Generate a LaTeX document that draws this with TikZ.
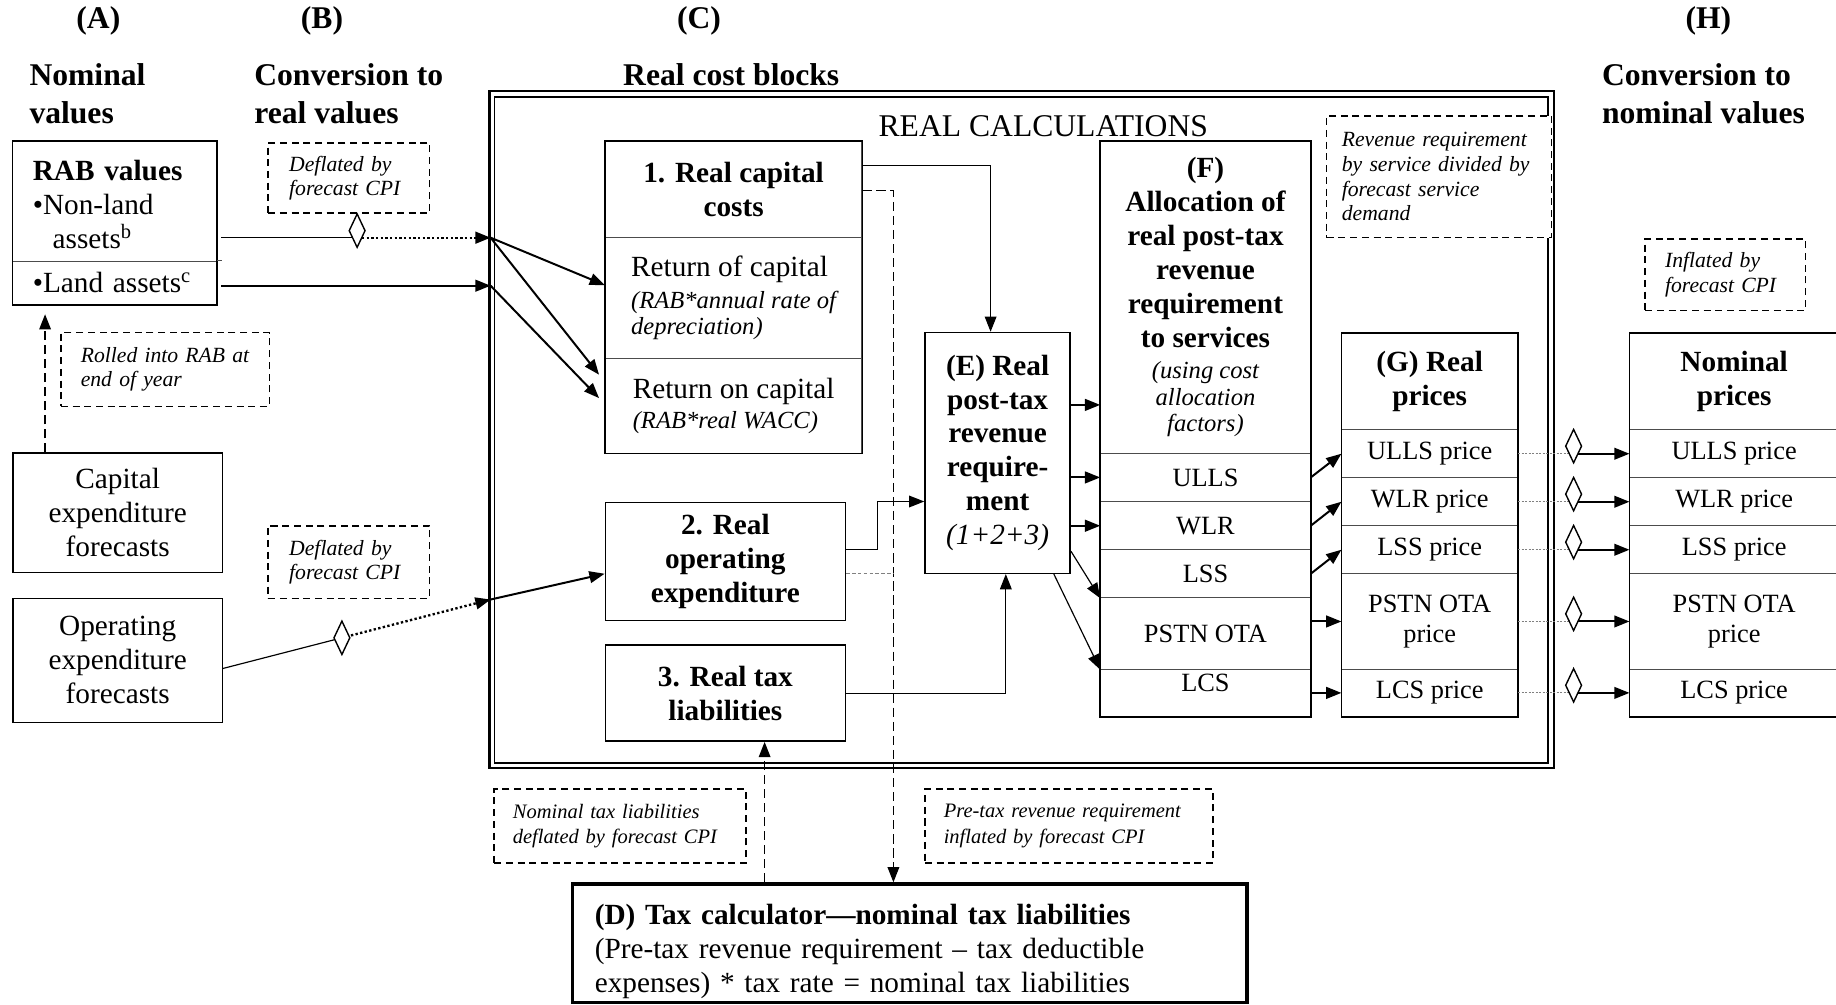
\documentclass[tikz,border=0pt]{standalone}
\usepackage{fontspec}
\setmainfont{Liberation Serif}
\usetikzlibrary{arrows.meta, shapes.geometric}
\newcommand{\rcbody}{\fontsize{25}{29}\selectfont}
\newcommand{\rchead}{\fontsize{25}{29}\selectfont\bfseries}
\newcommand{\rctitle}{\fontsize{27}{32}\selectfont\bfseries}
\newcommand{\rcnote}{\fontsize{18.5}{21}\selectfont\itshape}
\newcommand{\rcsmall}{\fontsize{17.5}{22}\selectfont\itshape}
\newcommand{\rcital}{\fontsize{21}{23}\selectfont\mdseries\itshape}
\newcommand{\rcrow}{\fontsize{22.5}{26}\selectfont}
\tikzset{
  box/.style={draw, line width=1.3pt, inner sep=0pt, align=center, font=\rcbody},
  cell/.style={draw=black!70, line width=0.8pt, inner sep=0pt, align=center},
  note/.style={draw, fill=white, line width=1.3pt, dash pattern=on 6pt off 4pt, inner sep=0pt, align=left, font=\rcnote},
  dia/.style={diamond, draw, fill=white, line width=1.2pt, minimum width=14pt, minimum height=29pt, inner sep=0pt},
  thinline/.style={line width=1pt},
  fatline/.style={line width=1.7pt},
  dotline/.style={line width=2pt, dash pattern=on 2pt off 2pt},
  dashline/.style={line width=1pt, dash pattern=on 8pt off 4pt},
  greyline/.style={gray, line width=0.7pt, dash pattern=on 2pt off 1pt},
  heading/.style={font=\rctitle, align=left, inner sep=0pt},
}
\begin{document}
\begin{tikzpicture}[x=1pt, y=-1pt, >={Triangle[length=13pt,width=10pt]}]
\useasboundingbox (0,0) rectangle (1568,858);
% column headings
\node at (84,18) [heading](hA){(A)};
\node at (275,18) [heading](hB){(B)};
\node at (597,18) [heading](hC){(C)};
\node at (1459,18) [heading](hH){(H)};
\node at (25,80) [heading, anchor=west](hnom){Nominal\\values};
\node at (217,80) [heading, anchor=west](hconv){Conversion to\\real values};
\node at (624.5,64) [heading](hcost){Real cost blocks};
\node at (1368,80) [heading, anchor=west](hconvn){Conversion to\\nominal values};
% real calculations frame
\draw[line width=2pt] (418,78) rectangle (1327,656);
\draw[line width=1.3pt] (422.5,83) rectangle (1322,651.5);
\node at (891,108) [font=\fontsize{27}{32}\selectfont](realcalc){REAL CALCULATIONS};
% (A) nominal values
\node at (98,172) [cell, minimum width=174pt, minimum height=102pt, text width=140pt, align=left, font=\rcbody](RABtop){\rule{0pt}{23pt}\textbf{RAB values}\\\textbullet Non-land\\\hspace*{17pt}assets\textsuperscript{b}};
\node at (98,241.5) [cell, minimum width=174pt, minimum height=37pt, text width=140pt, align=left, font=\rcbody](RABland){\textbullet Land assets\textsuperscript{c}};
\draw[line width=1.3pt] (RABtop.north west) rectangle (RABland.south east);
\draw[line width=0.8pt, black!70] (RABland.north east) -- ++(4,0);
\node at (100.5,438) [box, minimum width=179pt, minimum height=102pt](capex){Capital\\expenditure\\forecasts};
\node at (100.5,564) [box, minimum width=179pt, minimum height=106pt](opexf){Operating\\expenditure\\forecasts};
\node at (141,315.5) [note, minimum width=178pt, minimum height=63pt, text width=144pt](rolled){Rolled into RAB at\\end of year};
% (B) conversion to real values
\node at (298,152) [note, minimum width=138pt, minimum height=60pt, text width=102pt](deflA){Deflated by\\forecast CPI};
\node at (298,480) [note, minimum width=138pt, minimum height=62pt, text width=102pt](deflB){Deflated by\\forecast CPI};
% (C) real cost blocks
\node at (626.5,162) [cell, minimum width=219pt, minimum height=82pt, font=\rchead](Chead){1. Real capital\\costs};
\node at (626.5,254.5) [cell, minimum width=219pt, minimum height=103pt, align=left, font=\rcbody](Cret){Return of capital\\[-2pt]\rcital (RAB*annual rate of\\[-6pt]\rcital depreciation)};
\node at (626.5,346.5) [cell, minimum width=219pt, minimum height=81pt, align=left, font=\rcbody](Con){Return on capital\\[-3pt]\rcital (RAB*real WACC)};
\draw[line width=1.3pt] (Chead.north west) rectangle (Con.south east);
\node at (619.5,479.5) [box, minimum width=205pt, minimum height=101pt, font=\rchead](opex){2. Real\\operating\\expenditure};
\node at (619.5,592) [box, minimum width=205pt, minimum height=82pt, font=\rchead](rtax){3. Real tax\\liabilities};
% (E) revenue requirement
\node at (852,386.8) [box, minimum width=124pt, minimum height=205.6pt, font=\rchead](E){(E) Real\\post-tax\\revenue\\require-\\ment\\\mdseries\itshape (1+2+3)};
% (F) allocation to services
\node at (1029.5,254) [cell, minimum width=179pt, minimum height=266pt, font=\rchead](Fhead){(F)\\Allocation of\\real post-tax\\revenue\\requirement\\to services\\[-3pt]\rcital (using cost\\[-6pt]\rcital allocation\\[-6pt]\rcital factors)};
\node at (1029.5,407.75) [cell, minimum width=179pt, minimum height=41.5pt, font=\rcrow](Fulls){ULLS};
\node at (1029.5,449) [cell, minimum width=179pt, minimum height=41pt, font=\rcrow](Fwlr){WLR};
\node at (1029.5,490) [cell, minimum width=179pt, minimum height=41pt, font=\rcrow](Flss){LSS};
\node at (1029.5,541) [cell, minimum width=179pt, minimum height=61pt, font=\rcrow](Fpstn){PSTN OTA};
\node at (1029.5,591.75) [cell, minimum width=179pt, minimum height=40.5pt, text depth=17pt, font=\rcrow](Flcs){LCS};
\draw[line width=1.3pt] (Fhead.north west) rectangle (Flcs.south east);
\node at (1229,151) [note, minimum width=192pt, minimum height=104pt, text width=166pt](revnote){Revenue requirement\\by service divided by\\forecast service\\demand};
% (G) real prices
\node at (1221,326) [cell, minimum width=150pt, minimum height=82pt, font=\rchead](Ghead){(G) Real\\prices};
\node at (1221,387.5) [cell, minimum width=150pt, minimum height=41pt, font=\rcrow](Gulls){ULLS price};
\node at (1221,428.5) [cell, minimum width=150pt, minimum height=41pt, font=\rcrow](Gwlr){WLR price};
\node at (1221,469.5) [cell, minimum width=150pt, minimum height=41pt, font=\rcrow](Glss){LSS price};
\node at (1221,530.75) [cell, minimum width=150pt, minimum height=81.5pt, font=\rcrow](Gpstn){PSTN OTA\\price};
\node at (1221,591.75) [cell, minimum width=150pt, minimum height=40.5pt, font=\rcrow](Glcs){LCS price};
\draw[line width=1.3pt] (Ghead.north west) rectangle (Glcs.south east);
% (H) nominal prices
\node at (1473.5,234.5) [note, minimum width=137pt, minimum height=61pt, text width=103pt](infl){Inflated by\\forecast CPI};
\node at (1481,326) [cell, minimum width=178pt, minimum height=82pt, font=\rchead](Hhead){Nominal\\prices};
\node at (1481,387.5) [cell, minimum width=178pt, minimum height=41pt, font=\rcrow](Hulls){ULLS price};
\node at (1481,428.5) [cell, minimum width=178pt, minimum height=41pt, font=\rcrow](Hwlr){WLR price};
\node at (1481,469.5) [cell, minimum width=178pt, minimum height=41pt, font=\rcrow](Hlss){LSS price};
\node at (1481,530.75) [cell, minimum width=178pt, minimum height=81.5pt, font=\rcrow](Hpstn){PSTN OTA\\price};
\node at (1481,591.75) [cell, minimum width=178pt, minimum height=40.5pt, font=\rcrow](Hlcs){LCS price};
\draw[line width=1.3pt] (Hhead.north west) rectangle (Hlcs.south east);
% (D) tax calculator
\node at (777,805.5) [box, line width=3pt, minimum width=576pt, minimum height=101pt, text width=538pt, align=left](D){\rule{0pt}{31pt}\textbf{(D) Tax calculator---nominal tax liabilities}\\(Pre-tax revenue requirement -- tax deductible\\expenses) * tax rate = nominal tax liabilities};
\node at (529.5,705.5) [note, font=\rcsmall, minimum width=215pt, minimum height=63pt, text width=183pt](ntax){Nominal tax liabilities\\deflated by forecast CPI};
\node at (913,705.5) [note, font=\rcsmall, minimum width=246pt, minimum height=63pt, text width=214pt](ptax){Pre-tax revenue requirement\\inflated by forecast CPI};
% RAB and expenditure into the real blocks
\coordinate (nlstart) at (189,203);
\coordinate (nlmid) at (305,203);
\coordinate (jnl) at (419,203);
\coordinate (lstart) at (189,244);
\coordinate (jl) at (419,244);
\coordinate (opstart) at (190,571);
\coordinate (opmid) at (292,544.7);
\coordinate (jop) at (419,512);
\draw[thinline] (nlstart) -- (nlmid);
\draw[dotline,->] (nlmid) -- (jnl);
\node at ([yshift=6pt]nlmid) [dia](nldia){};
\draw[fatline,->] (lstart) -- (jl);
\draw[fatline,->] (jnl) -- ([yshift=11pt]Cret.west);
\draw[fatline,->] (jnl) -- ([xshift=-5pt,yshift=26.5pt]Con.west);
\draw[fatline,->] (jl) -- ([xshift=-5pt,yshift=6.5pt]Con.west);
\draw[thinline] (opstart) -- (opmid);
\draw[dotline,->] (opmid) -- (jop);
\node at (opmid) [dia](opdia){};
\draw[fatline,->] (jop) -- ([yshift=-10.5pt]opex.west);
\coordinate (capup) at ([xshift=-62pt]capex.north);
\draw[dashline,->,shorten >=8pt] (capup) -- (capup |- RABland.south);
% cost blocks into (E) and (D)
\draw[thinline,->] ([yshift=21pt]Chead.east) -| ([xshift=-6pt]E.north);
\draw[dashline,->] ([yshift=-1pt]Chead.east) -| ([xshift=-14pt]D.north);
\draw[thinline,->] ([yshift=10.5pt]opex.east) -- ++(27,0) |- ([yshift=-41.5pt]E.west);
\draw[gray, line width=0.8pt, dash pattern=on 3pt off 2pt] ([yshift=-10pt]opex.east) -- ++(41,0);
\draw[thinline,->] ([yshift=-0.5pt]rtax.east) -| ([xshift=7pt]E.south);
\coordinate (taxin) at ([xshift=33.5pt]rtax.south);
\draw[dashline,->] (taxin |- D.north) -- (taxin);
% (E) to (F)
\draw[fatline,->] ([yshift=41pt]E.east) coordinate (e1) -- (e1 -| Fhead.west);
\draw[fatline,->] (E.east |- Fulls.west) -- (Fulls.west);
\draw[fatline,->] (E.east |- Fwlr.west) -- (Fwlr.west);
\draw[thinline,->] ([yshift=-84pt]E.east) -- (Flss.south west);
\draw[thinline,->] ([xshift=48pt]E.south) -- (Fpstn.south west);
% (F) to (G)
\draw[fatline,->] (Fulls.east) -- (Gulls.west);
\draw[fatline,->] (Fwlr.east) -- (Gwlr.west);
\draw[fatline,->] (Flss.east) -- (Glss.west);
\draw[fatline,->] (Gpstn.west -| Fpstn.east) -- (Gpstn.west);
\draw[fatline,->] (Flcs.east) -- (Glcs.west);
% (G) to (H)
\draw[greyline] (Gulls.east) -- ++(47.5,0) coordinate (mulls);
\draw[fatline,->] (mulls) -- (Hulls.west);
\node at ([yshift=6.5pt]mulls) [dia](dulls){};
\draw[greyline] (Gwlr.east) -- ++(47.5,0) coordinate (mwlr);
\draw[fatline,->] (mwlr) -- (Hwlr.west);
\node at ([yshift=6.5pt]mwlr) [dia](dwlr){};
\draw[greyline] (Glss.east) -- ++(47.5,0) coordinate (mlss);
\draw[fatline,->] (mlss) -- (Hlss.west);
\node at ([yshift=6.5pt]mlss) [dia](dlss){};
\draw[greyline] (Gpstn.east) -- ++(47.5,0) coordinate (mpstn);
\draw[fatline,->] (mpstn) -- (Hpstn.west);
\node at ([yshift=6.5pt]mpstn) [dia](dpstn){};
\draw[greyline] (Glcs.east) -- ++(47.5,0) coordinate (mlcs);
\draw[fatline,->] (mlcs) -- (Hlcs.west);
\node at ([yshift=6.5pt]mlcs) [dia](dlcs){};
\end{tikzpicture}
\end{document}
